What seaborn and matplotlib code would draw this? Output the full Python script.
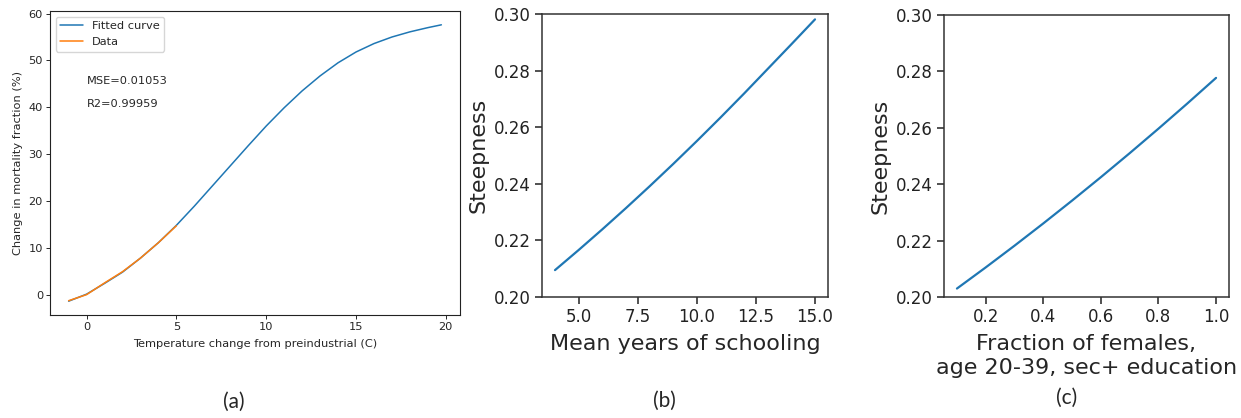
import matplotlib
matplotlib.use("Agg")
import matplotlib.pyplot as plt
import seaborn as sns

sns.set_style("ticks")
plt.rcParams["font.family"] = ["DejaVu Sans"]

# (a) mortality response to warming
temp_fit = [-1, 0, 1, 2, 3, 4, 5, 6, 7, 8, 9, 10, 11, 12, 13, 14, 15, 16, 17, 18, 19, 19.75]
mort_fit = [-1.4, 0.1, 2.4, 4.8, 7.8, 11.1, 14.8, 18.9, 23.2, 27.5, 31.8, 36.0, 39.9, 43.5, 46.7, 49.5, 51.8, 53.6, 55.0, 56.1, 57.0, 57.6]
temp_data = [-1, 0, 1, 2, 3, 4, 5]
mort_data = [-1.3, 0.0, 2.5, 4.9, 7.8, 11.1, 14.7]
mse_text = "MSE=0.01053"
r2_text = "R2=0.99959"

# (b) steepness vs schooling
schooling = [4, 5, 6, 7, 8, 9, 10, 11, 12, 13, 14, 15]
steep_school = [0.2095, 0.2166, 0.2239, 0.2314, 0.2391, 0.2470, 0.2551, 0.2634, 0.2719, 0.2806, 0.2893, 0.2981]

# (c) steepness vs female secondary education
female_frac = [0.1, 0.2, 0.3, 0.4, 0.5, 0.6, 0.7, 0.8, 0.9, 1.0]
steep_female = [0.2030, 0.2105, 0.2182, 0.2261, 0.2342, 0.2425, 0.2510, 0.2597, 0.2686, 0.2777]

panel_tags = ["(a)", "(b)", "(c)"]

blue, orange = sns.color_palette("tab10")[:2]
W, H = 1241, 418
fig = plt.figure(figsize=(W / 100, H / 100), dpi=100)

def box(l, t, r, b):
    return [l / W, 1 - b / H, (r - l) / W, (b - t) / H]

ax_a = fig.add_axes(box(50, 11, 460, 315))
ax_b = fig.add_axes(box(542, 14, 828, 297))
ax_c = fig.add_axes(box(944, 15, 1229, 297))

# panel (a)
fs_a = 8.2
sns.lineplot(x=temp_fit, y=mort_fit, ax=ax_a, color=blue, lw=1.1, label="Fitted curve")
sns.lineplot(x=temp_data, y=mort_data, ax=ax_a, color=orange, lw=1.1, label="Data")
ax_a.set_xticks([0, 5, 10, 15, 20])
ax_a.set_yticks([0, 10, 20, 30, 40, 50, 60])
ax_a.set_xlabel("Temperature change from preindustrial (C)", fontsize=fs_a, labelpad=5)
ax_a.set_ylabel("Change in mortality fraction (%)", fontsize=fs_a, labelpad=4)
ax_a.tick_params(labelsize=fs_a, length=3, width=0.7, pad=2)
ax_a.text(0, 45, mse_text, fontsize=fs_a)
ax_a.text(0, 40, r2_text, fontsize=fs_a)
ax_a.legend(loc="upper left", fontsize=fs_a, frameon=True, handlelength=2)
for s in ax_a.spines.values():
    s.set_linewidth(0.8)
    s.set_color("#222222")

# panels (b) and (c)
fs_t, fs_l = 12, 16
for ax, x, y in [(ax_b, schooling, steep_school), (ax_c, female_frac, steep_female)]:
    sns.lineplot(x=x, y=y, ax=ax, color=blue, lw=1.6)
    ax.set_ylim(0.20, 0.30)
    ax.set_yticks([0.20, 0.22, 0.24, 0.26, 0.28, 0.30])
    ax.set_ylabel("Steepness", fontsize=fs_l, labelpad=4)
    ax.tick_params(labelsize=fs_t, length=5, width=1.1, pad=3, colors="#222222")
    for s in ax.spines.values():
        s.set_linewidth(1.1)
        s.set_color("#333333")

ax_b.set_xticks([5.0, 7.5, 10.0, 12.5, 15.0])
ax_b.set_xlabel("Mean years of schooling", fontsize=fs_l, labelpad=6)
ax_c.set_xticks([0.2, 0.4, 0.6, 0.8, 1.0])
ax_c.set_xlabel("Fraction of females,\nage 20-39, sec+ education", fontsize=fs_l, labelpad=6)

for tag, cx, cy in zip(panel_tags, [234, 664, 1067], [402, 401, 398]):
    fig.text(cx / W, 1 - cy / H, tag, fontsize=15, ha="center", va="center", family=["Lato", "DejaVu Sans"])

fig.savefig("out.png", dpi=100)
